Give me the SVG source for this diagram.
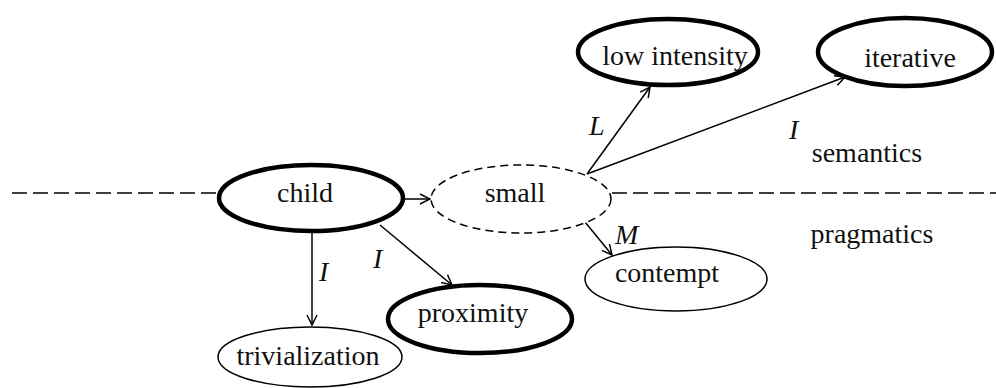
<svg xmlns="http://www.w3.org/2000/svg" width="996" height="388" viewBox="0 0 996 388">
<style>
  text { font-family: "Liberation Serif", "Times New Roman", serif; font-size: 28px; fill: #111; text-anchor: middle; }
  .lbl { font-style: italic; text-anchor: start; }
  .thick { fill: #fff; stroke: #000; stroke-width: 4.5; }
  .thin { fill: #fff; stroke: #000; stroke-width: 1.5; }
  .dashed { fill: #fff; stroke: #000; stroke-width: 1.5; stroke-dasharray: 8 5; }
  .edge { fill: none; stroke: #000; stroke-width: 1.5; marker-end: url(#arr); }
  .divider { fill: none; stroke: #000; stroke-width: 1.5; stroke-dasharray: 15 6; }
</style>
<defs>
  <marker id="arr" viewBox="0 0 12 12" refX="11" refY="6" markerWidth="12" markerHeight="12" markerUnits="userSpaceOnUse" orient="auto">
    <path d="M1,1 L11,6 L1,11" fill="none" stroke="#000" stroke-width="1.5"/>
  </marker>
</defs>
<g id="divider">
  <line class="divider" x1="12" y1="193" x2="218" y2="193"/>
  <line class="divider" x1="612" y1="193" x2="996" y2="193"/>
</g>
<g id="connectors">
  <line class="edge" x1="404" y1="199" x2="430" y2="199"/>
  <line class="edge" x1="587" y1="174" x2="650" y2="87"/>
  <line class="edge" x1="587" y1="174" x2="845" y2="77"/>
  <line class="edge" x1="585" y1="222" x2="612" y2="255"/>
  <line class="edge" x1="312" y1="232" x2="312" y2="325"/>
  <line class="edge" x1="380" y1="225" x2="452" y2="285"/>
</g>
<g id="labels">
  <text class="lbl" x="589" y="135">L</text>
  <text class="lbl" x="789" y="139">I</text>
  <text class="lbl" x="615" y="244">M</text>
  <text class="lbl" x="319" y="281">I</text>
  <text class="lbl" x="373" y="268">I</text>
  <text x="867" y="162">semantics</text>
  <text x="872" y="243">pragmatics</text>
</g>
<g id="node-child">
  <ellipse class="thick" cx="311" cy="198" rx="92" ry="33"/>
  <text x="305" y="202">child</text>
</g>
<g id="node-small">
  <ellipse class="dashed" cx="521" cy="199" rx="90" ry="34"/>
  <text x="515" y="202">small</text>
</g>
<g id="node-low-intensity">
  <ellipse class="thick" cx="668" cy="52" rx="90" ry="33"/>
  <text x="675" y="65">low intensity</text>
</g>
<g id="node-iterative">
  <ellipse class="thick" cx="905" cy="52" rx="87" ry="34"/>
  <text x="910" y="67">iterative</text>
</g>
<g id="node-contempt">
  <ellipse class="thin" cx="676" cy="279" rx="91" ry="32"/>
  <text x="667" y="282">contempt</text>
</g>
<g id="node-trivialization">
  <ellipse class="thin" cx="310" cy="357" rx="92" ry="30"/>
  <text x="308" y="365">trivialization</text>
</g>
<g id="node-proximity">
  <ellipse class="thick" cx="480" cy="319" rx="92" ry="34"/>
  <text x="473" y="322">proximity</text>
</g>
</svg>
